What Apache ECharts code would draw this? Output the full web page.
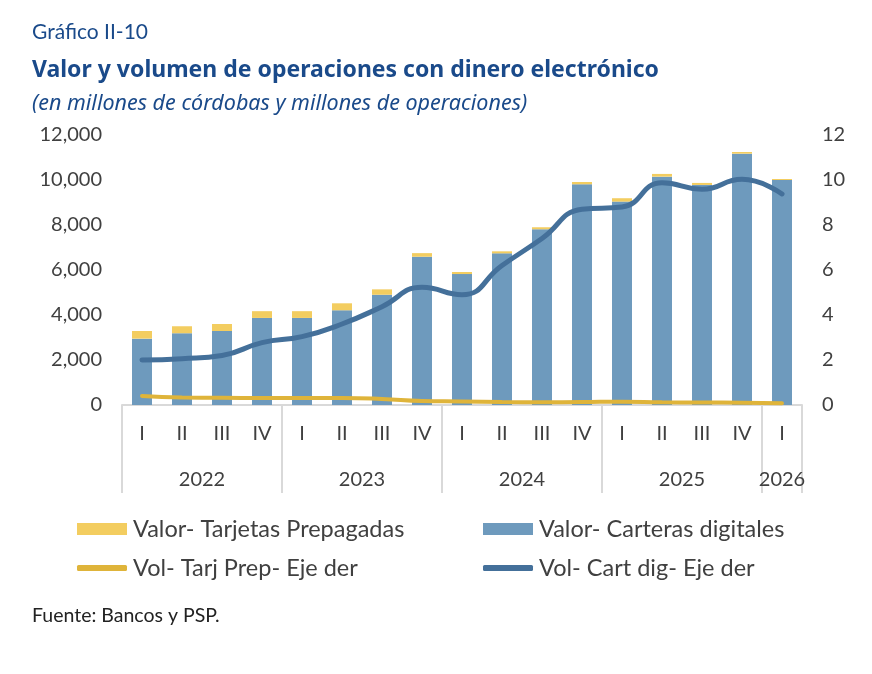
<!DOCTYPE html>
<html>
<head>
<meta charset="utf-8">
<script src="https://cdn.jsdelivr.net/npm/echarts@6/dist/echarts.min.js"></script>
<style>
  html, body { margin: 0; padding: 0; background: #fff; }
  #main { width: 872px; height: 674px; }
</style>
</head>
<body>
<div id="main"></div>
<script>
// datos
var trimestres = ['I', 'II', 'III', 'IV', 'I', 'II', 'III', 'IV', 'I', 'II', 'III', 'IV', 'I', 'II', 'III', 'IV', 'I'];
var anios = ['2022', '2023', '2024', '2025', '2026'];
var aniosPos = [2, 6, 10, 14, 16.5];      // centro de cada año en el eje de años
var aniosLimites = [0, 4, 8, 12, 16, 17]; // separadores entre años

var valorCarteras = [2950, 3190, 3290, 3870, 3870, 4210, 4900, 6590, 5820, 6740, 7810, 9810, 9040, 10150, 9780, 11170, 10000];
var valorTarjetas = [340, 310, 310, 300, 300, 310, 240, 160, 90, 90, 90, 100, 150, 120, 90, 75, 45];
var volCarteras = [2.0, 2.06, 2.2, 2.77, 3.04, 3.6, 4.37, 5.23, 4.9, 6.2, 7.4, 8.7, 8.8, 9.88, 9.59, 10.03, 9.38];
var volTarjetas = [0.4, 0.33, 0.32, 0.31, 0.31, 0.31, 0.27, 0.18, 0.16, 0.13, 0.12, 0.13, 0.15, 0.12, 0.11, 0.1, 0.08];

var azulTitulo = '#1a4a8a';
var gris = '#404040';
var fuente = 'Lato';

var myChart = echarts.init(document.getElementById('main'));

// leyenda: un componente por elemento para colocarlos como en el original
function leyenda(nombre, x, y, alto, icono) {
    return {
        left: x, top: y, itemWidth: 50, itemHeight: alto, selectedMode: false,
        data: [{ name: nombre, icon: icono }],
        textStyle: { fontFamily: fuente, fontSize: 23.5, color: gris, padding: [0, 0, 0, 1] }
    };
}

myChart.setOption({
    backgroundColor: '#fff',
    animation: false,
    textStyle: { fontFamily: fuente },
    title: [
        { text: 'Gráfico II-10', left: 27, top: 17, textStyle: { fontFamily: fuente, fontSize: 21, fontWeight: 'normal', color: azulTitulo } },
        { text: 'Valor y volumen de operaciones con dinero electrónico', left: 27, top: 54, textStyle: { fontFamily: 'Noto Sans', fontSize: 23, fontWeight: 'bold', color: azulTitulo } },
        { text: '(en millones de córdobas y millones de operaciones)', left: 27, top: 88, textStyle: { fontFamily: 'Noto Sans', fontSize: 21.5, fontWeight: 'normal', fontStyle: 'italic', color: azulTitulo } },
        { text: 'Fuente: Bancos y PSP.', left: 27, top: 601, textStyle: { fontFamily: fuente, fontSize: 19.5, fontWeight: 'normal', color: '#222' } }
    ],
    legend: [
        leyenda('Valor- Tarjetas Prepagadas', 72, 512, 12, 'rect'),
        leyenda('Valor- Carteras digitales', 478, 512, 12, 'rect'),
        leyenda('Vol- Tarj Prep- Eje der', 72, 551, 6, 'roundRect'),
        leyenda('Vol- Cart dig- Eje der', 478, 551, 6, 'roundRect')
    ],
    grid: { left: 122, right: 70, top: 135, bottom: 269, containLabel: false },
    xAxis: [
        {
            type: 'category',
            position: 'bottom',
            data: trimestres,
            axisLine: { lineStyle: { color: '#d9d9d9', width: 2 } },
            axisTick: { show: false },
            axisLabel: { interval: 0, margin: 19, fontFamily: fuente, fontSize: 20, color: gris }
        },
        {
            type: 'value',
            position: 'bottom',
            min: 0,
            max: 17,
            interval: 1,
            axisLine: { show: false },
            splitLine: { show: false },
            axisTick: { show: true, customValues: aniosLimites, length: 88, lineStyle: { color: '#d9d9d9', width: 2 } },
            axisLabel: {
                customValues: aniosPos,
                margin: 65,
                fontFamily: fuente,
                fontSize: 20,
                color: gris,
                formatter: function (v) {
                    var i = aniosPos.indexOf(v);
                    return i >= 0 ? anios[i] : '';
                }
            }
        }
    ],
    yAxis: [
        {
            type: 'value',
            min: 0,
            max: 12000,
            interval: 2000,
            splitLine: { show: false },
            axisLine: { show: false },
            axisTick: { show: false },
            axisLabel: {
                margin: 20,
                fontFamily: fuente,
                fontSize: 20,
                color: gris,
                formatter: function (v) { return v.toLocaleString('en-US'); }
            }
        },
        {
            type: 'value',
            min: 0,
            max: 12,
            interval: 2,
            splitLine: { show: false },
            axisLine: { show: false },
            axisTick: { show: false },
            axisLabel: { margin: 20, fontFamily: fuente, fontSize: 20, color: gris }
        }
    ],
    series: [
        {
            name: 'Valor- Carteras digitales',
            type: 'bar',
            stack: 'valor',
            barWidth: 20,
            itemStyle: { color: '#6e9abd' },
            data: valorCarteras
        },
        {
            name: 'Valor- Tarjetas Prepagadas',
            type: 'bar',
            stack: 'valor',
            barWidth: 20,
            itemStyle: { color: '#f3cd60' },
            data: valorTarjetas
        },
        {
            name: 'Vol- Tarj Prep- Eje der',
            type: 'line',
            yAxisIndex: 1,
            smooth: true,
            showSymbol: false,
            lineStyle: { color: '#dfb43a', width: 4, cap: 'round' },
            itemStyle: { color: '#dfb43a' },
            data: volTarjetas
        },
        {
            name: 'Vol- Cart dig- Eje der',
            type: 'line',
            yAxisIndex: 1,
            smooth: true,
            showSymbol: false,
            lineStyle: { color: '#44709a', width: 5, cap: 'round' },
            itemStyle: { color: '#44709a' },
            data: volCarteras
        }
    ]
});
</script>
</body>
</html>
